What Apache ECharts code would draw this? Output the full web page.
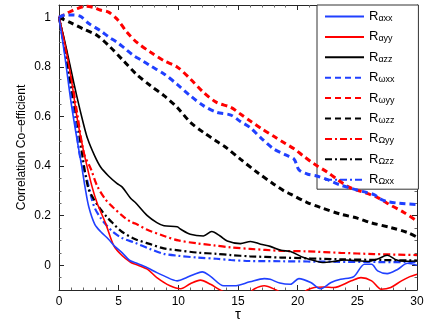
<!DOCTYPE html>
<html>
<head>
<meta charset="utf-8">
<script src="https://cdn.jsdelivr.net/npm/echarts@6/dist/echarts.min.js"></script>
<style>
  html, body { margin: 0; padding: 0; background: #fff; }
  #chart { width: 436px; height: 327px; }
</style>
</head>
<body>
<div id="chart"></div>
<script>
// [tau, R] pairs
var rAxx = [[0,1],[0.5,0.84],[1,0.66],[1.5,0.51],[1.9,0.40],[2.2,0.31],[2.5,0.235],[3,0.165],[3.5,0.135],[4.15,0.105],[4.7,0.075],[5.3,0.05],[5.9,0.02],[6.4,0.01],[7.4,-0.01],[8.2,-0.03],[8.8,-0.043],[9.9,-0.063],[10.7,-0.05],[11.4,-0.035],[12,-0.027],[12.7,-0.045],[13.8,-0.083],[14.7,-0.083],[16,-0.067],[17.2,-0.054],[17.7,-0.057],[18.5,-0.072],[19.4,-0.077],[20.1,-0.054],[21.1,-0.07],[21.9,-0.095],[22.8,-0.07],[23.6,-0.057],[24.7,-0.046],[25.6,0.004],[26.2,0.004],[26.7,-0.023],[27.5,-0.034],[28.4,-0.016],[29.2,0.008],[30,0]];
var rAyy = [[0,1],[0.5,0.89],[1,0.76],[1.5,0.6],[1.85,0.51],[2.2,0.43],[2.75,0.32],[3.2,0.25],[3.9,0.17],[4.6,0.078],[5.3,0.038],[6,0.012],[6.4,0.004],[7.4,-0.016],[8.2,-0.05],[9.3,-0.083],[10.2,-0.095],[11,-0.075],[11.85,-0.06],[12.7,-0.077],[13.5,-0.1],[14.5,-0.12],[15.5,-0.125],[16.4,-0.095],[17.2,-0.083],[18.2,-0.1],[19,-0.12],[20,-0.125],[20.8,-0.1],[21.4,-0.09],[22.2,-0.088],[23,-0.09],[24.5,-0.063],[25.3,-0.05],[26.2,-0.063],[27,-0.097],[27.8,-0.09],[28.7,-0.063],[29.4,-0.046],[30,-0.036]];
var rAzz = [[0,1],[0.5,0.9],[1,0.79],[1.5,0.68],[2,0.58],[2.4,0.51],[3,0.44],[3.5,0.395],[4.15,0.36],[4.85,0.33],[5.3,0.315],[6,0.27],[6.4,0.253],[7.4,0.2],[8.2,0.172],[8.8,0.159],[9.9,0.155],[10.2,0.145],[11,0.125],[12.1,0.118],[12.8,0.136],[13.5,0.118],[14.1,0.098],[15.2,0.087],[16.05,0.096],[16.9,0.085],[17.7,0.076],[18.6,0.06],[19.4,0.055],[20.5,0.031],[21.3,0.02],[22.2,0.011],[23,0.015],[23.9,0.021],[25,0.018],[25.9,0.015],[26.7,0.025],[27.5,0.04],[28.3,0.021],[29,0.016],[30,0.017]];
var rWxx = [[0,1],[0.5,1.01],[1,1.01],[1.76,1.005],[2.5,0.975],[3.45,0.947],[4.2,0.92],[4.85,0.9],[5.5,0.875],[6.25,0.846],[7,0.825],[7.65,0.805],[8.8,0.772],[9.9,0.73],[11,0.684],[12.1,0.644],[13.2,0.617],[14.4,0.606],[15.2,0.58],[16,0.556],[17,0.51],[18,0.469],[19,0.445],[19.7,0.428],[20.1,0.385],[20.8,0.368],[21.6,0.36],[22.5,0.345],[23.5,0.325],[24.5,0.31],[25.5,0.297],[26.4,0.285],[26.9,0.268],[27.5,0.257],[28.5,0.25],[30,0.245]];
var rWyy = [[0,1],[0.4,1.01],[0.8,1.02],[1.5,1.035],[2.3,1.045],[2.9,1.04],[3.45,1.03],[4.15,1.021],[4.85,0.994],[5.7,0.94],[6.5,0.9],[7.65,0.86],[8.8,0.825],[9.9,0.8],[11,0.752],[12.1,0.698],[13.2,0.657],[14.4,0.637],[15.2,0.61],[16,0.583],[17,0.55],[18,0.52],[19,0.49],[19.7,0.47],[20.5,0.44],[21.4,0.408],[22.5,0.375],[23.5,0.34],[24.3,0.315],[25,0.302],[25.8,0.29],[26.7,0.273],[27.5,0.25],[28.9,0.213],[30,0.178]];
var rWzz = [[0,1],[0.92,0.98],[2,0.954],[3.2,0.927],[4.3,0.88],[5.4,0.825],[6.5,0.77],[7.65,0.725],[8.8,0.684],[9.9,0.637],[11,0.577],[12.1,0.536],[13.2,0.5],[14,0.475],[15.2,0.428],[16.6,0.375],[18,0.327],[18.85,0.3],[19.4,0.287],[20.8,0.253],[21.9,0.233],[23.6,0.206],[25,0.19],[26.1,0.172],[27.8,0.152],[29.2,0.132],[30,0.113]];
var rOyy = [[0,1],[0.5,0.89],[1,0.77],[1.5,0.62],[2.1,0.45],[2.66,0.39],[3.2,0.32],[3.87,0.267],[4.5,0.235],[5.3,0.2],[6,0.175],[6.4,0.168],[7.4,0.143],[8.8,0.118],[10,0.1],[11.6,0.088],[13,0.08],[14.4,0.072],[16,0.066],[18.6,0.058],[20.8,0.056],[23.6,0.05],[26.4,0.045],[30,0.041]];
var rOzz = [[0,1],[0.5,0.87],[1,0.73],[1.5,0.59],[2,0.43],[2.46,0.31],[3,0.26],[3.5,0.225],[4,0.195],[4.5,0.17],[5.27,0.135],[6.4,0.105],[7.65,0.085],[8.77,0.068],[10,0.06],[11.6,0.051],[13.2,0.046],[14.4,0.041],[16,0.036],[18.6,0.031],[23.6,0.024],[30,0.019]];
var rOxx = [[0,1],[0.5,0.86],[1,0.7],[1.5,0.53],[1.76,0.44],[2.32,0.35],[2.75,0.267],[3,0.23],[3.5,0.19],[4,0.16],[4.5,0.135],[5.27,0.11],[6.4,0.09],[7.65,0.065],[8.77,0.046],[10,0.038],[11.6,0.031],[13.2,0.026],[14.4,0.021],[16,0.017],[18.6,0.016],[23,0.014],[30,0.012]];

var subs = ['αxx', 'αyy', 'αzz', 'ωxx', 'ωyy', 'ωzz', 'Ωyy', 'Ωzz', 'Ωxx'];
var curves = [rAxx, rAyy, rAzz, rWxx, rWyy, rWzz, rOyy, rOzz, rOxx];
var colors = ['#2040ff', '#ff0000', '#000000', '#2040ff', '#ff0000', '#000000', '#ff0000', '#000000', '#2040ff'];
var styles = ['solid', 'solid', 'solid', 'dash', 'dash', 'dash', 'dashdot', 'dashdot', 'dashdot'];

var dashOf = { solid: 'solid', dash: [6, 4], dashdot: [7, 3, 2, 3] };
var widthOf = { solid: 1.6, dash: 3, dashdot: 2.2 };

var series = curves.map(function (d, i) {
  return {
    name: subs[i],
    type: 'line',
    data: d,
    symbol: 'none',
    smooth: 0.3,
    clip: true,
    z: 10 - i,
    lineStyle: { color: colors[i], width: widthOf[styles[i]], type: dashOf[styles[i]] },
    itemStyle: { color: colors[i] }
  };
});

var axisCol = '#262626';
var font = 'Liberation Sans, Arial, sans-serif';

function xAx(pos) {
  return {
    type: 'value', position: pos, min: 0, max: 30, interval: 5,
    axisLine: { show: true, onZero: false, lineStyle: { color: axisCol, width: 1 } },
    axisTick: { show: true, inside: true, length: 5, lineStyle: { color: axisCol } },
    minorTick: { show: true, splitNumber: 5, length: 2.5, lineStyle: { color: '#666' } },
    splitLine: { show: false },
    axisLabel: { show: pos === 'bottom', color: '#000', fontSize: 12, fontFamily: font, margin: 6 },
    name: pos === 'bottom' ? 'τ' : '',
    nameLocation: 'middle', nameGap: 17, nameMoveOverlap: false,
    nameTextStyle: { color: '#000', fontSize: 15, fontFamily: font }
  };
}
function yAx(pos) {
  return {
    type: 'value', position: pos, min: -0.1, max: 1.05, splitNumber: 5,
    axisLine: { show: true, onZero: false, lineStyle: { color: axisCol, width: 1 } },
    axisTick: { show: true, inside: true, length: 5, lineStyle: { color: axisCol } },
    minorTick: { show: true, splitNumber: 4, length: 2.5, lineStyle: { color: '#666' } },
    splitLine: { show: false },
    axisLabel: { show: pos === 'left', color: '#000', fontSize: 12, fontFamily: font, margin: 8,
                 showMinLabel: false, showMaxLabel: false },
    name: pos === 'left' ? 'Correlation Co−efficient' : '',
    nameLocation: 'middle', nameGap: 31, nameMoveOverlap: false,
    nameTextStyle: { color: '#000', fontSize: 12, fontFamily: font }
  };
}

var chart = echarts.init(document.getElementById('chart'), null, { renderer: 'canvas' });
chart.setOption({
  animation: false,
  backgroundColor: '#fff',
  grid: { left: 59, right: 19, top: 5, bottom: 37 },
  xAxis: [xAx('bottom'), xAx('top')],
  yAxis: [yAx('left'), yAx('right')],
  legend: {
    orient: 'vertical', left: 317, top: 5,
    padding: [0, 24, 3, 7],
    itemWidth: 39, itemHeight: 12, itemGap: 2.4,
    itemStyle: { opacity: 0 },
    backgroundColor: '#fff', borderColor: '#333', borderWidth: 1,
    data: subs,
    formatter: function (name) { return '{r|R}{s|' + name + '}'; },
    textStyle: {
      color: '#000', fontFamily: font,
      rich: {
        r: { fontSize: 13, lineHeight: 13, verticalAlign: 'top', fontFamily: font },
        s: { fontSize: 9, lineHeight: 9, padding: [9, 0, 0, 0], verticalAlign: 'bottom', fontFamily: font }
      }
    }
  },
  series: series
});
</script>
</body>
</html>
